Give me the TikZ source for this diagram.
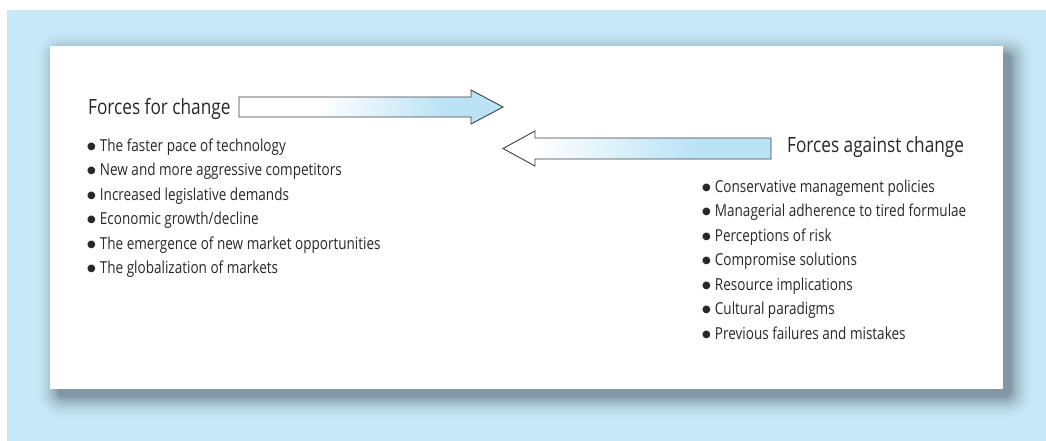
\documentclass[tikz,border=0pt]{standalone}
\usepackage{fontspec}
\setmainfont[FakeStretch=0.82]{Open Sans}
\newfontfamily\dotfont{DejaVu Sans}
\usetikzlibrary{positioning}

\definecolor{bgblue}{RGB}{198,232,247}
\definecolor{arrowblue}{RGB}{186,227,246}
\definecolor{shadowgrey}{RGB}{130,152,166}
\definecolor{textgrey}{RGB}{40,40,40}

\newcommand{\itemdot}{\raisebox{1.8pt}{\dotfont\fontsize{10}{10}\selectfont ●}\hspace{4pt}}

% the path box is mapped onto 25bp..75bp of these shadings
\pgfdeclarehorizontalshading{forshade}{100bp}{color(0bp)=(white); color(40bp)=(white); color(64bp)=(arrowblue); color(100bp)=(arrowblue)}
\pgfdeclarehorizontalshading{againstshade}{100bp}{color(0bp)=(white); color(31bp)=(white); color(61bp)=(arrowblue); color(100bp)=(arrowblue)}

\begin{document}
\begin{tikzpicture}[x=1pt,y=-1pt,
                    heading/.style={font=\fontsize{21}{25}\selectfont,text=textgrey,inner sep=0pt,anchor=base west},
                    item/.style={font=\fontsize{16.5}{20}\selectfont,text=textgrey,inner sep=0pt,anchor=base west},
                    pusharrow/.style={draw=black!75,line width=0.9pt,line join=miter}]

  \useasboundingbox (0,0) rectangle (1046,441);
  \fill[bgblue] (7,10) rectangle (1046,441);

  % soft shadow under the panel
  \foreach \r in {24,22,...,0}{
    \pgfmathtruncatemacro\m{100*(1-\r/26)^2}
    \fill[shadowgrey!\m!bgblue,rounded corners=\r+5] (58-\r,54-\r) rectangle (1011+\r,397+\r);
  }
  \fill[white] (50,46) rectangle (1003,389);

  % the two arrows
  \draw[pusharrow,shade,shading=forshade] (239,97) -- (471,97) -- (471,90) -- (503,107)
    -- (471,124) -- (471,117) -- (239,117) -- cycle;
  \draw[pusharrow,shade,shading=againstshade] (771,138) -- (535,138) -- (535,131) -- (503,148.5)
    -- (535,166) -- (535,159) -- (771,159) -- cycle;

  \node[heading] (forhead) at (88,115) {Forces for change};
  \node[item] (for1) at (87,151) {\itemdot The faster pace of technology};
  \node[item] (for2) [below=24.5pt of for1.base west,anchor=base west] {\itemdot New and more aggressive competitors};
  \node[item] (for3) [below=24.5pt of for2.base west,anchor=base west] {\itemdot Increased legislative demands};
  \node[item] (for4) [below=24.5pt of for3.base west,anchor=base west] {\itemdot Economic growth/decline};
  \node[item] (for5) [below=24.5pt of for4.base west,anchor=base west] {\itemdot The emergence of new market opportunities};
  \node[item] (for6) [below=24.5pt of for5.base west,anchor=base west] {\itemdot The globalization of markets};

  \node[heading] (againsthead) at (787,153) {Forces against change};
  \node[item] (against1) at (702,192) {\itemdot Conservative management policies};
  \node[item] (against2) [below=24.5pt of against1.base west,anchor=base west] {\itemdot Managerial adherence to tired formulae};
  \node[item] (against3) [below=24.5pt of against2.base west,anchor=base west] {\itemdot Perceptions of risk};
  \node[item] (against4) [below=24.5pt of against3.base west,anchor=base west] {\itemdot Compromise solutions};
  \node[item] (against5) [below=24.5pt of against4.base west,anchor=base west] {\itemdot Resource implications};
  \node[item] (against6) [below=24.5pt of against5.base west,anchor=base west] {\itemdot Cultural paradigms};
  \node[item] (against7) [below=24.5pt of against6.base west,anchor=base west] {\itemdot Previous failures and mistakes};
\end{tikzpicture}
\end{document}
